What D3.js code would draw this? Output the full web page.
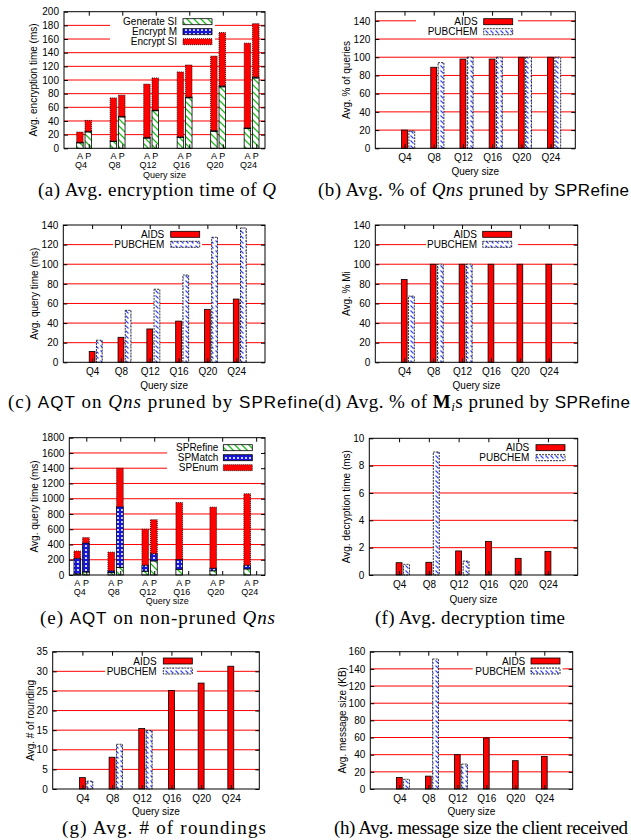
<!DOCTYPE html>
<html><head><meta charset="utf-8">
<script src="https://cdn.jsdelivr.net/npm/d3@7"></script>
<style>
body{margin:0;background:#fff;}
svg{display:block;}
</style></head><body>
<svg id="c" width="631" height="840"></svg>
<script>
// ---------------- DATA ----------------
const queries = ["Q4","Q8","Q12","Q16","Q20","Q24"];
// (a) encryption time, stacked, A = AIDS, P = PUBCHEM
const genSI_A  = [8, 10, 15, 16, 25, 29];
const encM_A   = [0.8, 0.8, 1, 0.8, 1, 1];
const encSI_A  = [15, 63, 78, 95, 109, 124];
const genSI_P  = [24, 46, 55, 74, 90, 103];
const encM_P   = [0.8, 0.8, 1, 1, 1.5, 1.5];
const encSI_P  = [16, 31, 47, 47, 78, 78];
// (b) avg % of queries pruned
const prunedQ_AIDS = [20, 89, 98, 98, 100, 100];
const prunedQ_PUB  = [19, 94, 100, 100, 100, 100];
// (c) AQT on pruned
const aqtPr_AIDS = [11, 25.5, 34, 42, 54, 64.5];
const aqtPr_PUB  = [22.5, 53, 74.5, 89, 127.5, 137];
// (d) avg % Mi pruned
const prunedM_AIDS = [84.5, 100, 100, 100, 100, 100];
const prunedM_PUB  = [67.5, 100, 100, 0, 0, 0];
// (e) AQT on non-pruned, stacked
const spRefine_A = [15, 30, 50, 75, 55, 80];
const spMatch_A  = [205, 25, 80, 130, 35, 50];
const spEnum_A   = [95, 245, 470, 745, 800, 935];
const spRefine_P = [40, 100, 185, 0, 0, 0];
const spMatch_P  = [380, 795, 95, 0, 0, 0];
const spEnum_P   = [70, 505, 445, 0, 0, 0];
// (f) decryption time
const dec_AIDS = [0.9, 0.93, 1.76, 2.46, 1.22, 1.73];
const dec_PUB  = [0.78, 9.0, 1.02, 0, 0, 0];
// (g) rounds
const round_AIDS = [2.9, 8.1, 15.4, 25.1, 27.0, 31.3];
const round_PUB  = [2.0, 11.4, 14.9, 0, 0, 0];
// (h) message size
const msg_AIDS = [13.5, 15, 40, 59.5, 33, 38];
const msg_PUB  = [11.3, 151.5, 29, 0, 0, 0];
// tick labels
const ticksEnc   = [0,20,40,60,80,100,120,140,160,180,200];
const ticksPct   = [0,20,40,60,80,100,120,140];
const ticksNP    = [0,200,400,600,800,1000,1200,1400,1600,1800];
const ticksDec   = [0,2,4,6,8,10];
const ticksRound = [0,5,10,15,20,25,30,35];
const ticksMsg   = [0,20,40,60,80,100,120,140,160];

// ---------------- SETUP ----------------
const SANS = "'Liberation Sans', Arial, Helvetica, sans-serif";
const SERIF = "'Liberation Serif', 'Times New Roman', serif";
const svg = d3.select("#c");
const defs = svg.append("defs");

const pg = defs.append("pattern").attr("id","pGreen").attr("patternUnits","userSpaceOnUse").attr("width",7).attr("height",7);
pg.append("rect").attr("width",7).attr("height",7).attr("fill","#fff");
pg.append("path").attr("d","M0,0L7,7M-1,6L1,8M6,-1L8,1").attr("stroke","#22bb22").attr("stroke-width",1.3);

const pb = defs.append("pattern").attr("id","pBlue").attr("patternUnits","userSpaceOnUse").attr("width",4).attr("height",4);
pb.append("rect").attr("width",4).attr("height",4).attr("fill","#1515dd");
pb.append("circle").attr("cx",2).attr("cy",2).attr("r",1.1).attr("fill","#fff");

const pp = defs.append("pattern").attr("id","pPub").attr("patternUnits","userSpaceOnUse").attr("width",5).attr("height",5);
pp.append("rect").attr("width",5).attr("height",5).attr("fill","#fff");
pp.append("path").attr("d","M0.5,0.5L3.5,3.5").attr("stroke","#3344ff").attr("stroke-width",1.1);

const stGen  = {fill:"url(#pGreen)", stroke:"#000", dash:null};
const stEncM = {fill:"url(#pBlue)", stroke:"#000", dash:null};
const stEncSI= {fill:"#ff0000", stroke:"#000", dash:"1,1"};
const stAIDS = {fill:"#ff0000", stroke:"#000", dash:null};
const stPUB  = {fill:"url(#pPub)", stroke:"#000", dash:"2,1"};

function styleRect(sel, st) {
  sel.attr("fill", st.fill).attr("stroke", st.stroke).attr("stroke-width", 0.8);
  if (st.dash) sel.attr("stroke-dasharray", st.dash);
}

function drawPanel(p) {
  const g = svg.append("g");
  const x = d3.scaleLinear().domain(p.xdom).range([p.L, p.R]);
  const y = d3.scaleLinear().domain(p.ydom).range([p.B, p.T]);
  // grid lines
  g.append("g").selectAll("line")
    .data(p.yticks.filter(v => v > p.ydom[0] && v < p.ydom[1]))
    .join("line")
    .attr("x1", p.L).attr("x2", p.R)
    .attr("y1", d => y(d)).attr("y2", d => y(d))
    .attr("stroke", "#ff0000").attr("stroke-width", 1);
  // legend opaque box
  const lg = p.legend;
  g.append("rect").attr("x", lg.box[0]).attr("y", lg.box[1])
    .attr("width", lg.box[2]-lg.box[0]).attr("height", lg.box[3]-lg.box[1]).attr("fill", "#fff");
  // bars
  const bwPx = x(p.bw) - x(0);
  if (p.type === "cluster") {
    p.series.forEach(s => {
      const rs = g.append("g").selectAll("rect")
        .data(s.values.map((v,i)=>({v,i})).filter(d => d.v > 0))
        .join("rect")
        .attr("x", d => x(d.i + s.off) - bwPx/2)
        .attr("width", bwPx)
        .attr("y", d => y(d.v))
        .attr("height", d => y(0) - y(d.v));
      styleRect(rs, s.style);
    });
  } else {
    p.stacks.forEach(sg => {
      const rows = queries.map((q,i) => {
        const r = {i};
        sg.keys.forEach((k,j) => r[k] = sg.arrays[j][i]);
        return r;
      });
      const layers = d3.stack().keys(sg.keys)(rows);
      layers.forEach((layer, j) => {
        const rs = g.append("g").selectAll("rect")
          .data(layer.filter(d => d[1] - d[0] > 0))
          .join("rect")
          .attr("x", d => x(d.data.i + sg.off) - bwPx/2)
          .attr("width", bwPx)
          .attr("y", d => y(d[1]))
          .attr("height", d => y(d[0]) - y(d[1]));
        styleRect(rs, sg.styles[j]);
      });
    });
  }
  // frame
  g.append("rect").attr("x", p.L).attr("y", p.T).attr("width", p.R-p.L).attr("height", p.B-p.T)
    .attr("fill","none").attr("stroke","#000").attr("stroke-width",1);
  // axes
  g.append("g").attr("transform", `translate(${p.L},0)`)
    .call(d3.axisLeft(y).tickValues(p.yticks).tickSize(-4).tickPadding(5).tickFormat(d3.format("d")));
  g.append("g").attr("transform", `translate(${p.R},0)`)
    .call(d3.axisRight(y).tickValues(p.yticks).tickSize(-4).tickFormat(""));
  const xt = d3.range(queries.length).map(i => i + p.tickOff);
  g.append("g").attr("transform", `translate(0,${p.B})`)
    .call(d3.axisBottom(x).tickValues(xt).tickSize(-4).tickPadding(5.5)
      .tickFormat(p.type === "cluster" ? ((d,i) => queries[i]) : ""));
  g.append("g").attr("transform", `translate(0,${p.T})`)
    .call(d3.axisTop(x).tickValues(xt).tickSize(-4).tickFormat(""));
  g.selectAll(".domain").remove();
  g.selectAll(".tick line").attr("stroke","#000");
  g.selectAll(".tick text").attr("font-family", SANS).attr("font-size", 10).attr("fill","#000");
  // stacked tick labels (A P / Qn)
  if (p.type === "stack") {
    const lab = g.append("g").attr("font-family", SANS).attr("font-size", 9).attr("text-anchor","middle");
    p.stacks.forEach(sg => {
      lab.append("g").selectAll("text").data(queries).join("text")
        .attr("x", (d,i) => x(i + sg.off)).attr("y", p.B + 8).attr("dy","0.35em").text(sg.name);
    });
    lab.append("g").selectAll("text").data(queries).join("text")
      .attr("x", (d,i) => x(i - p.qShift)).attr("y", p.B + 17).attr("dy","0.35em").text(d => d);
  }
  // axis titles
  g.append("text").attr("font-family", SANS).attr("font-size", p.type === "stack" ? 9 : 10).attr("text-anchor","middle")
    .attr("x", (p.L+p.R)/2).attr("y", p.B + p.xtY).attr("dy","0.35em").text("Query size");
  g.append("text").attr("font-family", SANS).attr("font-size", 10).attr("text-anchor","middle")
    .attr("transform", `translate(${p.ytX},${(p.T+p.B)/2}) rotate(-90)`).attr("dy","0.35em").text(p.ytitle);
  // legend content
  lg.items.forEach((it, k) => {
    const ry = lg.y0 + k * 10;
    g.append("text").attr("font-family", SANS).attr("font-size", 10).attr("text-anchor","end")
      .attr("x", lg.tx).attr("y", ry).attr("dy","0.35em").text(it.label);
    const r = g.append("rect").attr("x", lg.sx).attr("y", ry - 3).attr("width", 29).attr("height", 6);
    styleRect(r, it.style);
  });
}

// ---------------- PANELS ----------------
drawPanel({type:"stack", L:64, T:11.7, R:265, B:148.3, ydom:[0,200], yticks:ticksEnc,
  xdom:[-0.6,5.4], bw:0.194, tickOff:0.14, qShift:0.09, xtY:26.2, ytX:33,
  ytitle:"Avg. encryption time (ms)",
  stacks:[
    {name:"A", off:-0.125, keys:["gen","m","si"], arrays:[genSI_A,encM_A,encSI_A], styles:[stGen,stEncM,stEncSI]},
    {name:"P", off:0.125, keys:["gen","m","si"], arrays:[genSI_P,encM_P,encSI_P], styles:[stGen,stEncM,stEncSI]}],
  legend:{tx:177, sx:183, y0:21.7, box:[110,16,215,47],
    items:[{label:"Generate SI", style:stGen},{label:"Encrypt M", style:stEncM},{label:"Encrypt SI", style:stEncSI}]}
});
drawPanel({type:"cluster", L:375.3, T:11.7, R:575.3, B:148.3, ydom:[0,150], yticks:ticksPct,
  xdom:[-1,5.85], bw:0.2, tickOff:0, xtY:23.5, ytX:346.7, ytitle:"Avg. % of queries",
  series:[{values:prunedQ_AIDS, off:0, style:stAIDS},{values:prunedQ_PUB, off:0.25, style:stPUB}],
  legend:{tx:477.7, sx:483.7, y0:21.7, box:[416,16,518,37],
    items:[{label:"AIDS", style:stAIDS},{label:"PUBCHEM", style:stPUB}]}
});
drawPanel({type:"cluster", L:63.3, T:225, R:265, B:362.3, ydom:[0,140], yticks:ticksPct,
  xdom:[-1,6], bw:0.2, tickOff:0, xtY:23.5, ytX:34.3, ytitle:"Avg. query time (ms)",
  series:[{values:aqtPr_AIDS, off:0, style:stAIDS},{values:aqtPr_PUB, off:0.25, style:stPUB}],
  legend:{tx:164.3, sx:170.7, y0:234.3, box:[113,229,202,249],
    items:[{label:"AIDS", style:stAIDS},{label:"PUBCHEM", style:stPUB}]}
});
drawPanel({type:"cluster", L:375.3, T:225, R:577.7, B:362.3, ydom:[0,140], yticks:ticksPct,
  xdom:[-1,6], bw:0.2, tickOff:0, xtY:23.5, ytX:346.7, ytitle:"Avg. % Mi",
  series:[{values:prunedM_AIDS, off:0, style:stAIDS},{values:prunedM_PUB, off:0.25, style:stPUB}],
  legend:{tx:477, sx:482.7, y0:234.3, box:[426,229,518,249],
    items:[{label:"AIDS", style:stAIDS},{label:"PUBCHEM", style:stPUB}]}
});
drawPanel({type:"stack", L:69.3, T:437.7, R:265, B:575, ydom:[0,1800], yticks:ticksNP,
  xdom:[-0.36,5.4], bw:0.197, tickOff:0.14, qShift:0.05, xtY:26.2, ytX:34.3,
  ytitle:"Avg. query time (ms)",
  stacks:[
    {name:"A", off:-0.124, keys:["r","m","e"], arrays:[spRefine_A,spMatch_A,spEnum_A], styles:[stGen,stEncM,stEncSI]},
    {name:"P", off:0.13, keys:["r","m","e"], arrays:[spRefine_P,spMatch_P,spEnum_P], styles:[stGen,stEncM,stEncSI]}],
  legend:{tx:218.3, sx:223.3, y0:447.7, box:[167,443,264,472],
    items:[{label:"SPRefine", style:stGen},{label:"SPMatch", style:stEncM},{label:"SPEnum", style:stEncSI}]}
});
drawPanel({type:"cluster", L:369.3, T:438.3, R:577.7, B:575, ydom:[0,10], yticks:ticksDec,
  xdom:[-1,6], bw:0.2, tickOff:0, xtY:24.5, ytX:346.7, ytitle:"Avg. decryption time (ms)",
  series:[{values:dec_AIDS, off:0, style:stAIDS},{values:dec_PUB, off:0.25, style:stPUB}],
  legend:{tx:529.3, sx:536, y0:447.7, box:[480,442,570,462],
    items:[{label:"AIDS", style:stAIDS},{label:"PUBCHEM", style:stPUB}]}
});
drawPanel({type:"cluster", L:52.7, T:651.7, R:259.3, B:789, ydom:[0,35], yticks:ticksRound,
  xdom:[-1,5.96], bw:0.2, tickOff:0, xtY:22.5, ytX:30.7, ytitle:"Avg. # of rounding",
  series:[{values:round_AIDS, off:0, style:stAIDS},{values:round_PUB, off:0.25, style:stPUB}],
  legend:{tx:156.7, sx:163.3, y0:661, box:[105,655,197,676],
    items:[{label:"AIDS", style:stAIDS},{label:"PUBCHEM", style:stPUB}]}
});
drawPanel({type:"cluster", L:370.3, T:651.7, R:572.7, B:789, ydom:[0,160], yticks:ticksMsg,
  xdom:[-1,5.98], bw:0.2, tickOff:0, xtY:22.5, ytX:342, ytitle:"Avg. message size (KB)",
  series:[{values:msg_AIDS, off:0, style:stAIDS},{values:msg_PUB, off:0.25, style:stPUB}],
  legend:{tx:525.3, sx:531, y0:661, box:[472.7,655,562.7,676],
    items:[{label:"AIDS", style:stAIDS},{label:"PUBCHEM", style:stPUB}]}
});

// ---------------- CAPTIONS ----------------
function caption(x, y, len, parts) {
  const t = svg.append("text").attr("x", x).attr("y", y).attr("font-family", SERIF)
    .attr("font-size", 19).attr("fill", "#000").attr("textLength", len).attr("xml:space","preserve");
  parts.forEach(([s, k]) => {
    const ts = t.append("tspan").text(s);
    if (k === "i") ts.attr("font-style", "italic");
    if (k === "s") ts.attr("font-family", SANS).attr("font-size", 17);
    if (k === "b") ts.attr("font-weight", "bold");
    if (k === "sub") { ts.attr("font-style","italic").attr("font-size", 13).attr("dy", 3); }
    if (k === "up") { ts.attr("dy", -3); }
  });
}
caption(38, 195.5, 238, [["(a) Avg. encryption time of ","n"],["Q","i"]]);
caption(318, 195.5, 311, [["(b) Avg. % of ","n"],["Qns","i"],[" pruned by ","n"],["SPRefine","s"]]);
caption(8, 408, 310, [["(c) ","n"],["AQT","s"],[" on ","n"],["Qns","i"],[" pruned by ","n"],["SPRefine","s"]]);
caption(318, 408, 312, [["(d) Avg. % of ","n"],["M","b"],["i","sub"],["s pruned by ","up"],["SPRefine","s"]]);
caption(40, 623.5, 235, [["(e) ","n"],["AQT","s"],[" on non-pruned ","n"],["Qns","i"]]);
caption(375, 623.5, 190, [["(f) Avg. decryption time","n"]]);
caption(62, 833.5, 204, [["(g) Avg. # of roundings","n"]]);
caption(334, 833.5, 294, [["(h) Avg. message size the client received","n"]]);
</script>
</body></html>
